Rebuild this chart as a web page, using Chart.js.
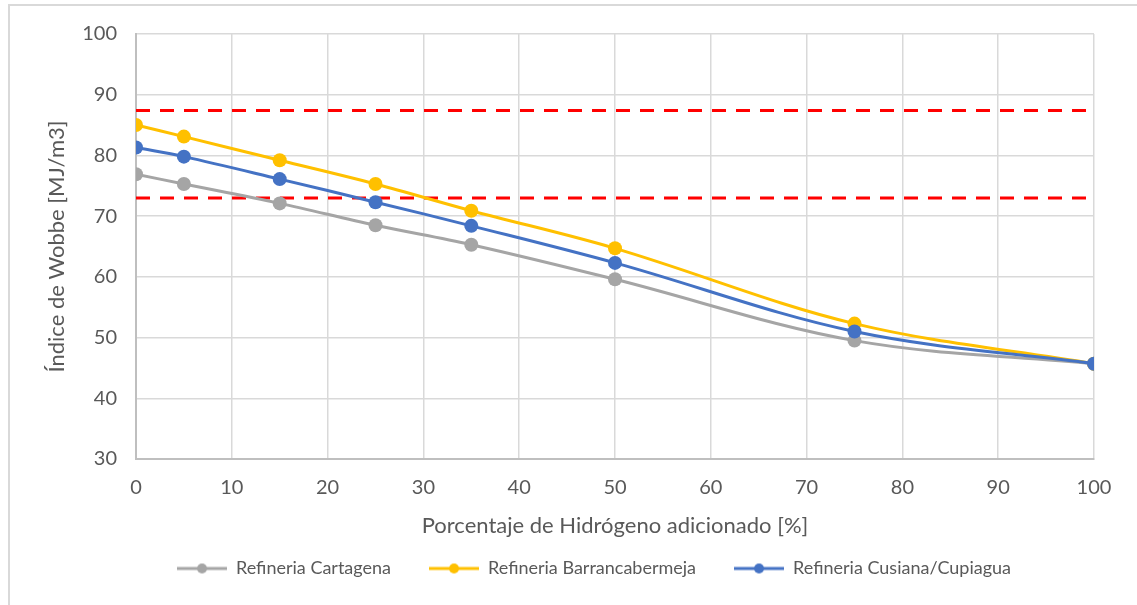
<!DOCTYPE html>
<html>
<head>
<meta charset="utf-8">
<script src="https://cdn.jsdelivr.net/npm/chart.js@4.4.1/dist/chart.umd.min.js"></script>
<style>
  html, body { margin: 0; padding: 0; background: #fff; }
  #wrap { width: 1137px; height: 605px; position: relative; }
</style>
</head>
<body>
<div id="wrap"><canvas id="graph" width="1137" height="605"></canvas></div>
<script>
// colours (Excel default palette)
const grey =   '#A5A5A5'
const yellow = '#FFC000'
const blue =   '#4472C4'
const red =    '#FF0000'
const textGrey = '#595959'

// hydrogen added [%]
const hydrogenPct = [0, 5, 15, 25, 35, 50, 75, 100]
// Wobbe index [MJ/m3] per refinery
const cartagena =  [76.9, 75.3, 72.1, 68.5, 65.3, 59.6, 49.5, 45.7]
const barranca =   [85.0, 83.1, 79.2, 75.3, 70.9, 64.7, 52.3, 45.7]
const cusiana =    [81.3, 79.8, 76.1, 72.3, 68.4, 62.3, 51.0, 45.7]
// limits (red dashed)
const limitX = [0, 100]
const upperLimit = 87.4
const lowerLimit = 73.0

const seriesNames = ['Refineria Cartagena', 'Refineria Barrancabermeja', 'Refineria Cusiana/Cupiagua']
const yTicks = [30, 40, 50, 60, 70, 80, 90, 100]
const xTicks = [0, 10, 20, 30, 40, 50, 60, 70, 80, 90, 100]

const fontFamily = 'Lato, "Open Sans", sans-serif'

function toPoints(xs, ys) {
    return xs.map((x, i) => ({x: x, y: ys[i]}))
}

// legend marker: short line with a dot in the middle
function legendMarker(colour) {
    const c = document.createElement('canvas')
    c.width = 50
    c.height = 14
    const g = c.getContext('2d')
    g.strokeStyle = colour
    g.lineWidth = 3
    g.beginPath()
    g.moveTo(0, 7)
    g.lineTo(50, 7)
    g.stroke()
    g.fillStyle = colour
    g.beginPath()
    g.arc(25, 7, 5, 0, Math.PI * 2)
    g.fill()
    return c
}

const serieColours = [grey, yellow, blue]
const markers = serieColours.map(legendMarker)

function seriesDataset(label, values, colour, order) {
    return {
        label: label,
        data: toPoints(hydrogenPct, values),
        showLine: true,
        borderColor: colour,
        backgroundColor: colour,
        borderWidth: 3,
        pointRadius: 7,
        pointBorderWidth: 0,
        tension: 0.35,
        order: order
    }
}

function limitDataset(value) {
    return {
        label: 'limit',
        data: toPoints(limitX, limitX.map(() => value)),
        showLine: true,
        borderColor: red,
        borderWidth: 3,
        borderDash: [14, 10],
        pointRadius: 0,
        order: 5
    }
}

// frame + legend shift
const framePlugin = {
    id: 'frame',
    beforeDraw(chart) {
        const ctx = chart.ctx
        ctx.save()
        ctx.fillStyle = '#fff'
        ctx.fillRect(0, 0, chart.width, chart.height)
        ctx.strokeStyle = '#D9D9D9'
        ctx.lineWidth = 2
        ctx.beginPath()
        ctx.moveTo(9, chart.height)
        ctx.lineTo(9, 5)
        ctx.lineTo(chart.width, 5)
        ctx.stroke()
        ctx.restore()
    },
    afterLayout(chart) {
        //centre the legend on the whole picture instead of the plot
        chart.legend.left = 0
        chart.legend.right = 1188
    }
}

const ctx = document.getElementById('graph')
new Chart(ctx, {
    type: 'scatter',
    data: {
        datasets: [
            seriesDataset(seriesNames[0], cartagena, grey, 2),
            seriesDataset(seriesNames[1], barranca, yellow, 1),
            seriesDataset(seriesNames[2], cusiana, blue, 0),
            limitDataset(upperLimit),
            limitDataset(lowerLimit)
        ]
    },
    options: {
        responsive: false,
        animation: false,
        layout: {
            padding: {left: 0, right: 43, top: 34, bottom: 17.5}
        },
        plugins: {
            tooltip: {enabled: false},
            legend: {
                display: true,
                position: 'bottom',
                labels: {
                    usePointStyle: true,
                    pointStyleWidth: 50,
                    boxHeight: 14,
                    padding: 38,
                    color: textGrey,
                    font: {family: fontFamily, size: 18},
                    generateLabels: () => seriesNames.map((name, i) => ({
                        text: name,
                        pointStyle: markers[i],
                        fillStyle: serieColours[i],
                        strokeStyle: serieColours[i],
                        lineWidth: 0,
                        fontColor: textGrey,
                        hidden: false,
                        datasetIndex: i
                    }))
                }
            }
        },
        scales: {
            x: {
                type: 'linear',
                min: 0,
                max: 100,
                afterBuildTicks: (scale) => { scale.ticks = xTicks.map(v => ({value: v})) },
                afterFit: (scale) => { scale.height = 62.5 },
                grid: {color: '#D9D9D9', lineWidth: 1.5, drawTicks: false},
                border: {color: '#BFBFBF', width: 2},
                ticks: {color: textGrey, padding: 17, autoSkip: false, maxRotation: 0, font: {family: fontFamily, size: 20}},
                title: {
                    display: true,
                    text: 'Porcentaje de Hidrógeno adicionado [%]',
                    color: textGrey,
                    font: {family: fontFamily, size: 22},
                    padding: {top: 0, bottom: -17.7}
                }
            },
            y: {
                min: 30,
                max: 100,
                afterBuildTicks: (scale) => { scale.ticks = yTicks.map(v => ({value: v})) },
                afterFit: (scale) => { scale.width = 136 },
                grid: {color: '#D9D9D9', lineWidth: 1.5, drawTicks: false},
                border: {color: '#BFBFBF', width: 2},
                ticks: {color: textGrey, padding: 19, autoSkip: false, font: {family: fontFamily, size: 20}},
                title: {
                    display: true,
                    text: 'Índice de Wobbe [MJ/m3]',
                    color: textGrey,
                    font: {family: fontFamily, size: 22},
                    padding: {top: 44, bottom: 0}
                }
            }
        }
    },
    plugins: [framePlugin]
});
</script>
</body>
</html>
